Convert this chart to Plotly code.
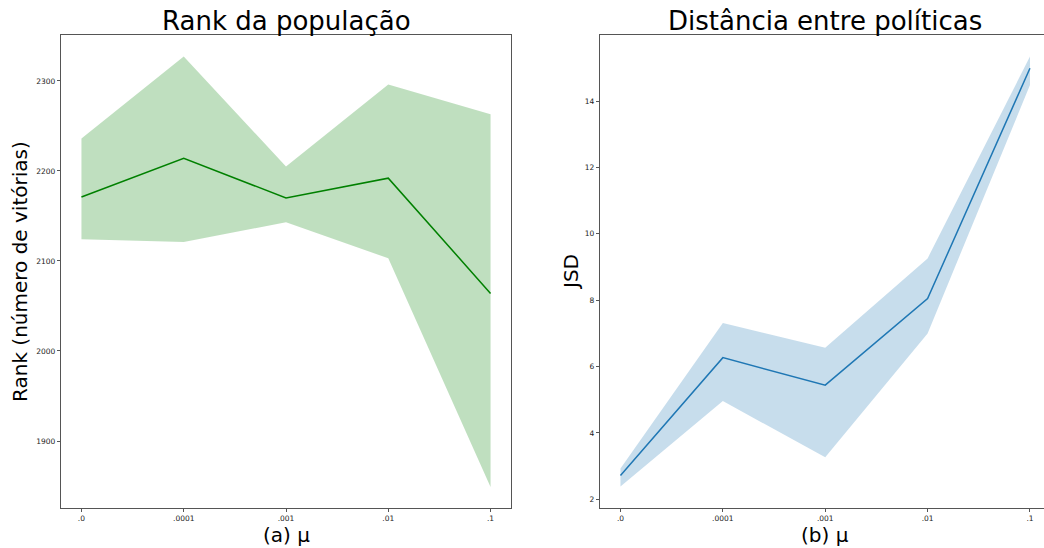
import plotly.graph_objects as go

# mutation rate categories
mu_labels = [".0", ".0001", ".001", ".01", ".1"]

# population rank (number of wins): mean and confidence band
rank_mean = [2171, 2214, 2170, 2192, 2064]
rank_upper = [2236, 2327, 2205, 2296, 2263]
rank_lower = [2124, 2121, 2143, 2103, 1849]

# distance between policies (JSD): mean and confidence band
jsd_mean = [2.72, 6.27, 5.44, 8.05, 14.99]
jsd_upper = [2.93, 7.31, 6.57, 9.26, 15.34]
jsd_lower = [2.39, 4.96, 3.27, 7.00, 14.48]

W, H = 1044, 548
FONT = "DejaVu Sans"

fig = go.Figure()

# left panel: band then mean line
fig.add_trace(go.Scatter(x=mu_labels, y=rank_lower, mode="lines", line=dict(width=0),
                         hoverinfo="skip", showlegend=False, xaxis="x", yaxis="y"))
fig.add_trace(go.Scatter(x=mu_labels, y=rank_upper, mode="lines", line=dict(width=0),
                         fill="tonexty", fillcolor="rgba(0,128,0,0.25)",
                         showlegend=False, xaxis="x", yaxis="y"))
fig.add_trace(go.Scatter(x=mu_labels, y=rank_mean, mode="lines",
                         line=dict(color="#008000", width=1.5),
                         showlegend=False, xaxis="x", yaxis="y"))

# right panel
fig.add_trace(go.Scatter(x=mu_labels, y=jsd_lower, mode="lines", line=dict(width=0),
                         hoverinfo="skip", showlegend=False, xaxis="x2", yaxis="y2"))
fig.add_trace(go.Scatter(x=mu_labels, y=jsd_upper, mode="lines", line=dict(width=0),
                         fill="tonexty", fillcolor="rgba(31,119,180,0.25)",
                         showlegend=False, xaxis="x2", yaxis="y2"))
fig.add_trace(go.Scatter(x=mu_labels, y=jsd_mean, mode="lines",
                         line=dict(color="#1f77b4", width=1.5),
                         showlegend=False, xaxis="x2", yaxis="y2"))

tickfont = dict(family=FONT, size=7.5, color="#222")
spine = "#555"
common_x = dict(type="category", showgrid=False, zeroline=False, showline=True,
                linecolor=spine, linewidth=1.2, ticks="outside", ticklen=3,
                tickcolor=spine, tickfont=tickfont, mirror=True)
common_y = dict(showgrid=False, zeroline=False, showline=True, linecolor=spine,
                linewidth=1.2, ticks="outside", ticklen=3, tickcolor=spine,
                tickfont=tickfont)

y0 = (H - 508) / H
y1 = (H - 35) / H

fig.update_layout(
    width=W, height=H,
    margin=dict(l=0, r=0, t=0, b=0),
    paper_bgcolor="white", plot_bgcolor="white",
    xaxis=dict(common_x, domain=[61 / W, 511 / W], range=[-0.2, 4.2], anchor="y"),
    yaxis=dict(common_y, domain=[y0, y1], range=[1825.6, 2351],
               tickvals=[1900, 2000, 2100, 2200, 2300], mirror=True, anchor="x"),
    xaxis2=dict(common_x, domain=[600 / W, 1.0], range=[-0.2, 4.137], anchor="y2"),
    yaxis2=dict(common_y, domain=[y0, y1], range=[1.74, 15.99],
                tickvals=[2, 4, 6, 8, 10, 12, 14], mirror=False, anchor="x2"),
)

def label(text, x, y, size, angle=0):
    fig.add_annotation(text=text, x=x / W, y=1 - y / H, xref="paper", yref="paper",
                       showarrow=False, textangle=angle,
                       font=dict(family=FONT, size=size, color="black"),
                       xanchor="center", yanchor="middle")

label("Rank da população", 286, 21, 26)
label("Distância entre políticas", 825, 21, 26)
label("(a) μ", 286, 535, 20)
label("(b) μ", 825, 535, 20)
label("Rank (número de vitórias)", 20, 272, 20, -90)
label("JSD", 571, 272, 20, -90)

fig.write_html("out.html")
